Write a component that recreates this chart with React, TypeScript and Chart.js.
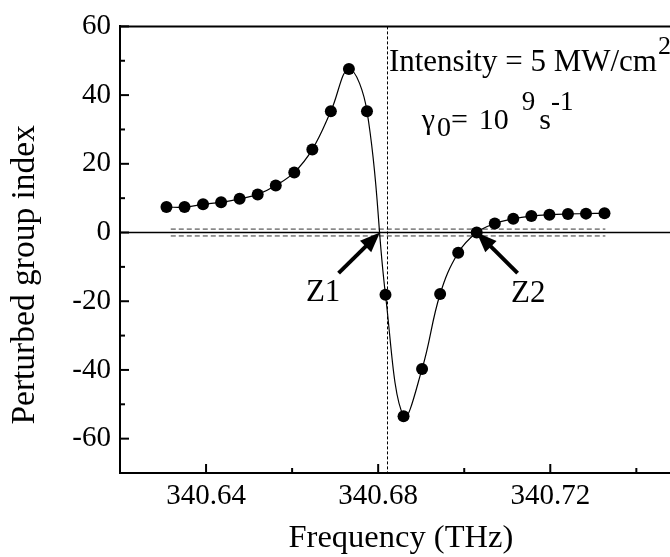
import React, { useEffect, useRef } from "react";
import { Chart, registerables } from "chart.js";

Chart.register(...registerables);

// ---- data ----
const frequencyTHz = [
  340.6308, 340.635, 340.6393, 340.6435, 340.6478, 340.652, 340.6562, 340.6605,
  340.6647, 340.669, 340.6732, 340.6774, 340.6817, 340.6859, 340.6902, 340.6944,
  340.6986, 340.7029, 340.7071, 340.7114, 340.7156, 340.7198, 340.7241, 340.7283,
  340.7326,
];
const groupIndex = [
  7.4, 7.4, 8.2, 8.8, 9.8, 11.1, 13.7, 17.5, 24.2, 35.3, 47.6, 35.3, -18.1, -53.5,
  -39.7, -17.9, -5.9, 0.0, 2.6, 4.0, 4.8, 5.2, 5.4, 5.5, 5.6,
];

const xTickValues = [340.64, 340.68, 340.72];
const xMinorTickValues = [340.66, 340.7, 340.74];
const yTickValues = [-60, -40, -20, 0, 20, 40, 60];
const yMinorTickValues = [-50, -30, -10, 10, 30, 50];
const xRange = [340.62, 340.76];
const yRange = [-70, 60];

const xTitle = "Frequency (THz)";
const yTitle = "Perturbed group index";

// annotations (in data units)
const resonanceFrequency = 340.6821;
const bandLimits = [1, -1];
const bandFrequencies = [340.6318, 340.7328];
const zeroLabels = ["Z1", "Z2"];
const arrowTips = [
  [340.6804, 0],
  [340.7029, 0],
];
const arrowTails = [
  [340.6708, -11.8],
  [340.7124, -11.8],
];
const zeroLabelPositions = [
  [340.6672, -19.8],
  [340.7149, -20.2],
];
const intensityText = "Intensity = 5 MW/cm";
const intensitySup = "2";
const intensityAnchor = [340.6825, 47.1];
const gammaAnchor = [340.6901, 30.2];

const SERIF = '"Liberation Serif", "Times New Roman", serif';

function drawArrow(ctx: CanvasRenderingContext2D, x1: number, y1: number, x2: number, y2: number) {
  const headLen = 20;
  const headHalf = 8;
  const a = Math.atan2(y2 - y1, x2 - x1);
  const c = Math.cos(a);
  const s = Math.sin(a);
  const bx = x2 - headLen * c;
  const by = y2 - headLen * s;
  ctx.lineWidth = 4;
  ctx.lineCap = "butt";
  ctx.beginPath();
  ctx.moveTo(x1, y1);
  ctx.lineTo(bx + 2 * c, by + 2 * s);
  ctx.stroke();
  ctx.beginPath();
  ctx.moveTo(x2, y2);
  ctx.lineTo(bx + headHalf * s, by - headHalf * c);
  ctx.lineTo(bx - headHalf * s, by + headHalf * c);
  ctx.closePath();
  ctx.fill();
}

const overlayPlugin = {
  id: "overlay",
  beforeDatasetsDraw(chart: any) {
    const { ctx, chartArea: a, scales } = chart;
    const x = scales.x;
    const y = scales.y;
    ctx.save();
    // zero line
    ctx.strokeStyle = "#000";
    ctx.lineWidth = 1.5;
    const y0 = y.getPixelForValue(0);
    ctx.beginPath();
    ctx.moveTo(a.left, y0);
    ctx.lineTo(a.right, y0);
    ctx.stroke();
    // dashed band lines
    ctx.setLineDash([5, 3]);
    ctx.lineWidth = 1;
    ctx.strokeStyle = "#333";
    for (const v of bandLimits) {
      const py = y.getPixelForValue(v);
      ctx.beginPath();
      ctx.moveTo(x.getPixelForValue(bandFrequencies[0]), py);
      ctx.lineTo(x.getPixelForValue(bandFrequencies[1]), py);
      ctx.stroke();
    }
    // vertical dashed line
    ctx.setLineDash([3, 2]);
    ctx.strokeStyle = "#000";
    const px = Math.round(x.getPixelForValue(resonanceFrequency)) + 0.5;
    ctx.beginPath();
    ctx.moveTo(px, a.top);
    ctx.lineTo(px, a.bottom);
    ctx.stroke();
    ctx.restore();
  },
  afterDraw(chart: any) {
    const { ctx, chartArea: a, scales } = chart;
    const x = scales.x;
    const y = scales.y;
    ctx.save();
    ctx.strokeStyle = "#000";
    ctx.fillStyle = "#000";
    // top border
    ctx.lineWidth = 2;
    ctx.beginPath();
    ctx.moveTo(a.left - 1, a.top);
    ctx.lineTo(a.right, a.top);
    ctx.stroke();
    // inward ticks
    ctx.lineWidth = 2;
    for (const v of yTickValues) {
      const py = y.getPixelForValue(v);
      ctx.beginPath();
      ctx.moveTo(a.left, py);
      ctx.lineTo(a.left + 9, py);
      ctx.stroke();
    }
    for (const v of yMinorTickValues) {
      const py = y.getPixelForValue(v);
      ctx.beginPath();
      ctx.moveTo(a.left, py);
      ctx.lineTo(a.left + 5, py);
      ctx.stroke();
    }
    for (const v of xTickValues) {
      const px = x.getPixelForValue(v);
      ctx.beginPath();
      ctx.moveTo(px, a.bottom);
      ctx.lineTo(px, a.bottom - 9);
      ctx.stroke();
    }
    for (const v of xMinorTickValues) {
      const px = x.getPixelForValue(v);
      ctx.beginPath();
      ctx.moveTo(px, a.bottom);
      ctx.lineTo(px, a.bottom - 5);
      ctx.stroke();
    }
    // arrows
    for (let i = 0; i < arrowTips.length; i++) {
      drawArrow(
        ctx,
        x.getPixelForValue(arrowTails[i][0]),
        y.getPixelForValue(arrowTails[i][1]),
        x.getPixelForValue(arrowTips[i][0]),
        y.getPixelForValue(arrowTips[i][1])
      );
    }
    // Z labels
    ctx.textBaseline = "alphabetic";
    ctx.textAlign = "center";
    ctx.font = `31px ${SERIF}`;
    for (let i = 0; i < zeroLabels.length; i++) {
      ctx.fillText(
        zeroLabels[i],
        x.getPixelForValue(zeroLabelPositions[i][0]),
        y.getPixelForValue(zeroLabelPositions[i][1])
      );
    }
    // intensity text
    ctx.textAlign = "left";
    let ix = x.getPixelForValue(intensityAnchor[0]);
    const iy = y.getPixelForValue(intensityAnchor[1]);
    ctx.font = `31px ${SERIF}`;
    ctx.fillText(intensityText, ix, iy);
    ix += ctx.measureText(intensityText).width + 1;
    ctx.font = `26px ${SERIF}`;
    ctx.fillText(intensitySup, ix, iy - 17);
    // gamma text
    let gx = x.getPixelForValue(gammaAnchor[0]);
    const gy = y.getPixelForValue(gammaAnchor[1]);
    ctx.font = `30px ${SERIF}`;
    ctx.fillText("γ", gx, gy);
    gx += ctx.measureText("γ").width + 2;
    ctx.font = `28px ${SERIF}`;
    ctx.fillText("0", gx, gy + 7);
    gx += ctx.measureText("0").width;
    ctx.font = `30px ${SERIF}`;
    ctx.fillText("=", gx, gy);
    gx += ctx.measureText("=").width + 11;
    ctx.fillText("10", gx, gy);
    gx += ctx.measureText("10").width + 13;
    ctx.font = `27px ${SERIF}`;
    ctx.fillText("9", gx, gy - 19);
    gx += ctx.measureText("9").width + 4;
    ctx.font = `30px ${SERIF}`;
    ctx.fillText("s", gx, gy);
    gx += ctx.measureText("s").width;
    ctx.font = `27px ${SERIF}`;
    ctx.fillText("-1", gx, gy - 19);
    ctx.restore();
  },
};

export default function App() {
  const canvasRef = useRef<HTMLCanvasElement | null>(null);

  useEffect(() => {
    const canvas = canvasRef.current;
    if (!canvas) return;
    const chart = new Chart(canvas, {
      type: "line",
      data: {
        datasets: [
          {
            data: frequencyTHz.map((f, i) => ({ x: f, y: groupIndex[i] })),
            borderColor: "#000",
            borderWidth: 1.2,
            backgroundColor: "#000",
            pointBackgroundColor: "#000",
            pointBorderWidth: 0,
            pointRadius: 6,
            tension: 0.4,
            fill: false,
          },
        ],
      },
      options: {
        responsive: false,
        animation: false,
        events: [],
        layout: {
          autoPadding: false,
          padding: { left: 0, right: 17.6, top: 22.7, bottom: 0 },
        },
        plugins: {
          legend: { display: false },
          tooltip: { enabled: false },
        },
        scales: {
          x: {
            type: "linear",
            min: xRange[0],
            max: xRange[1],
            afterBuildTicks: (scale: any) => {
              scale.ticks = xTickValues.map((v) => ({ value: v }));
            },
            afterFit: (scale: any) => {
              scale.height = 84;
            },
            grid: { display: false, drawTicks: false },
            border: { display: true, color: "#000", width: 2 },
            ticks: {
              padding: 5.6,
              color: "#000",
              font: { family: SERIF, size: 29 },
              maxRotation: 0,
              autoSkip: false,
              callback: (v: any) => Number(v).toFixed(2),
            },
            title: {
              display: true,
              text: xTitle + "     ",
              color: "#000",
              font: { family: SERIF, size: 32.5, lineHeight: 1 },
              padding: { top: 0, bottom: 1.8 },
            },
          },
          y: {
            type: "linear",
            min: yRange[0],
            max: yRange[1],
            afterBuildTicks: (scale: any) => {
              scale.ticks = yTickValues.map((v) => ({ value: v }));
            },
            afterFit: (scale: any) => {
              scale.width = 120;
            },
            grid: { display: false, drawTicks: false },
            border: { display: true, color: "#000", width: 2 },
            ticks: {
              padding: 9,
              color: "#000",
              font: { family: SERIF, size: 29 },
              autoSkip: false,
              callback: (v: any) => String(v),
            },
            title: {
              display: true,
              text: yTitle + "      ",
              color: "#000",
              font: { family: SERIF, size: 33.5, lineHeight: 1 },
              padding: { top: 8.3, bottom: 0 },
            },
          },
        },
      },
      plugins: [overlayPlugin],
    } as any);
    return () => chart.destroy();
  }, []);

  return (
    <div
      style={{
        position: "fixed",
        left: 0,
        top: 0,
        width: 670,
        height: 557,
        overflow: "hidden",
        background: "#fff",
      }}
    >
      <canvas ref={canvasRef} width={740} height={557} style={{ display: "block" }} />
    </div>
  );
}
